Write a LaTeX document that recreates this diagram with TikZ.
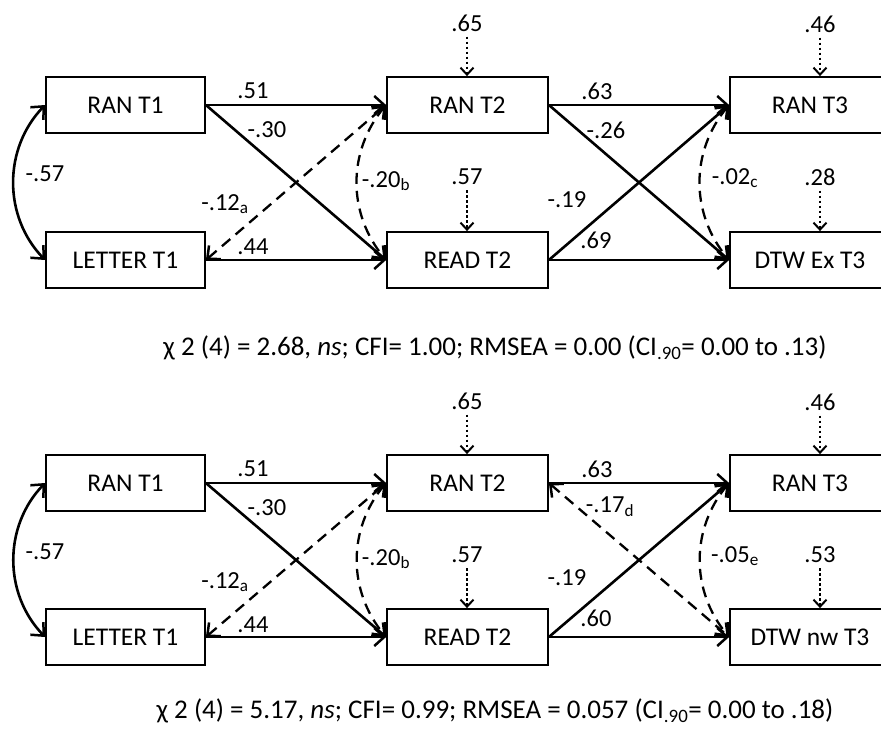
\documentclass[tikz,border=0pt]{standalone}
\usepackage{fontspec}
\setmainfont{Carlito}
\usetikzlibrary{arrows.meta}
\begin{document}
\begin{tikzpicture}[x=1pt,y=-1pt,
  box/.style={draw,line width=1.8pt,minimum width=159pt,minimum height=56pt,inner sep=0pt,font=\fontsize{25.5}{28}\selectfont},
  num/.style={inner sep=0pt,font=\fontsize{24.5}{27}\selectfont},
  fit/.style={inner sep=0pt,font=\fontsize{27}{30}\selectfont},
  tipb/.tip={Straight Barb[length=10pt,width=18pt,line width=2.5pt]},
  tipr/.tip={Straight Barb[length=7pt,width=13pt,line width=2pt]},
  path/.style={line width=2.6pt,-tipb},
  dpath/.style={line width=2.3pt,dash pattern=on 11pt off 7pt,tipb-tipb},
  cpath/.style={line width=2.6pt,tipb-tipb},
  res/.style={line width=2.8pt,dash pattern=on 2.5pt off 2.5pt,-tipr,shorten <=5pt}
]
\useasboundingbox (0,0) rectangle (881,739);
\fill[white] (0,0) rectangle (881,739);

% ---------------- top model ----------------
\node[box] (ar1) at (125.5,105) {RAN T1};
\node[box] (al1) at (125.5,260) {LETTER T1};
\node[box,minimum width=161pt] (ar2) at (467.5,105) {RAN T2};
\node[box,minimum width=161pt] (ard2) at (467.5,260) {READ T2};
\node[box,minimum width=160pt] (ar3) at (810,105) {RAN T3};
\node[box,minimum width=160pt] (ad3) at (810,260) {DTW Ex T3};

\draw[path] (ar1.east) -- (ar2.west);
\draw[path] (ar1.east) -- (ard2.west);
\draw[path] (al1.east) -- (ard2.west);
\draw[dpath] (al1.east) -- (ar2.west);
\draw[dpath] (ar2.west) to[bend right=40] (ard2.west);
\draw[cpath] (ar1.west) to[bend right=44] (al1.west);
\draw[path] (ar2.east) -- (ar3.west);
\draw[path] (ar2.east) -- (ad3.west);
\draw[path] (ard2.east) -- (ar3.west);
\draw[path] (ard2.east) -- (ad3.west);
\draw[dpath] (ar3.west) to[bend right=40] (ad3.west);

\node[num] (ae2) at (467,23) {.65};
\node[num] (aerd2) at (467,177) {.57};
\node[num] (ae3) at (820,24) {.46};
\node[num] (aed3) at (820,177) {.28};
\draw[res] (ae2.south) -- (ae2.south |- ar2.north);
\draw[res] (aerd2.south) -- (aerd2.south |- ard2.north);
\draw[res] (ae3.south) -- (ae3.south |- ar3.north);
\draw[res] (aed3.south) -- (aed3.south |- ad3.north);

\node[num] at (253,91) {.51};
\node[num] at (267,130) {-.30};
\node[num] at (45,174) {-.57};
\node[num] at (225,204) {-.12\textsubscript{a}};
\node[num] at (253,247) {.44};
\node[num] at (386,181) {-.20\textsubscript{b}};
\node[num] at (597,91) {.63};
\node[num] at (606,130) {-.26};
\node[num] at (567,200) {-.19};
\node[num] at (596,240) {.69};
\node[num] at (735,178) {-.02\textsubscript{c}};

\node[fit] (fit1) at (495,348) {χ 2 (4) = 2.68, \textit{ns}; CFI= 1.00; RMSEA = 0.00 (CI\textsubscript{.90}= 0.00 to .13)};

% ---------------- bottom model ----------------
\node[box] (br1) at (125.5,483) {RAN T1};
\node[box] (bl1) at (125.5,637) {LETTER T1};
\node[box,minimum width=161pt] (br2) at (467.5,483) {RAN T2};
\node[box,minimum width=161pt] (brd2) at (467.5,637) {READ T2};
\node[box,minimum width=160pt] (br3) at (810,483) {RAN T3};
\node[box,minimum width=160pt] (bd3) at (810,637) {DTW nw T3};

\draw[path] (br1.east) -- (br2.west);
\draw[path] (br1.east) -- (brd2.west);
\draw[path] (bl1.east) -- (brd2.west);
\draw[dpath] (bl1.east) -- (br2.west);
\draw[dpath] (br2.west) to[bend right=40] (brd2.west);
\draw[cpath] (br1.west) to[bend right=44] (bl1.west);
\draw[path] (br2.east) -- (br3.west);
\draw[dpath] (br2.east) -- (bd3.west);
\draw[path] (brd2.east) -- (br3.west);
\draw[path] (brd2.east) -- (bd3.west);
\draw[dpath] (br3.west) to[bend right=40] (bd3.west);

\node[num] (be2) at (467,401) {.65};
\node[num] (berd2) at (467,555) {.57};
\node[num] (be3) at (820,402) {.46};
\node[num] (bed3) at (820,555) {.53};
\draw[res] (be2.south) -- (be2.south |- br2.north);
\draw[res] (berd2.south) -- (berd2.south |- brd2.north);
\draw[res] (be3.south) -- (be3.south |- br3.north);
\draw[res] (bed3.south) -- (bed3.south |- bd3.north);

\node[num] at (253,469) {.51};
\node[num] at (267,508) {-.30};
\node[num] at (45,552) {-.57};
\node[num] at (225,582) {-.12\textsubscript{a}};
\node[num] at (253,625) {.44};
\node[num] at (386,559) {-.20\textsubscript{b}};
\node[num] at (597,469) {.63};
\node[num] at (610,507) {-.17\textsubscript{d}};
\node[num] at (567,578) {-.19};
\node[num] at (596,618) {.60};
\node[num] at (735,556) {-.05\textsubscript{e}};

\node[fit] (fit2) at (495,711) {χ 2 (4) = 5.17, \textit{ns}; CFI= 0.99; RMSEA = 0.057 (CI\textsubscript{.90}= 0.00 to .18)};
\end{tikzpicture}
\end{document}
